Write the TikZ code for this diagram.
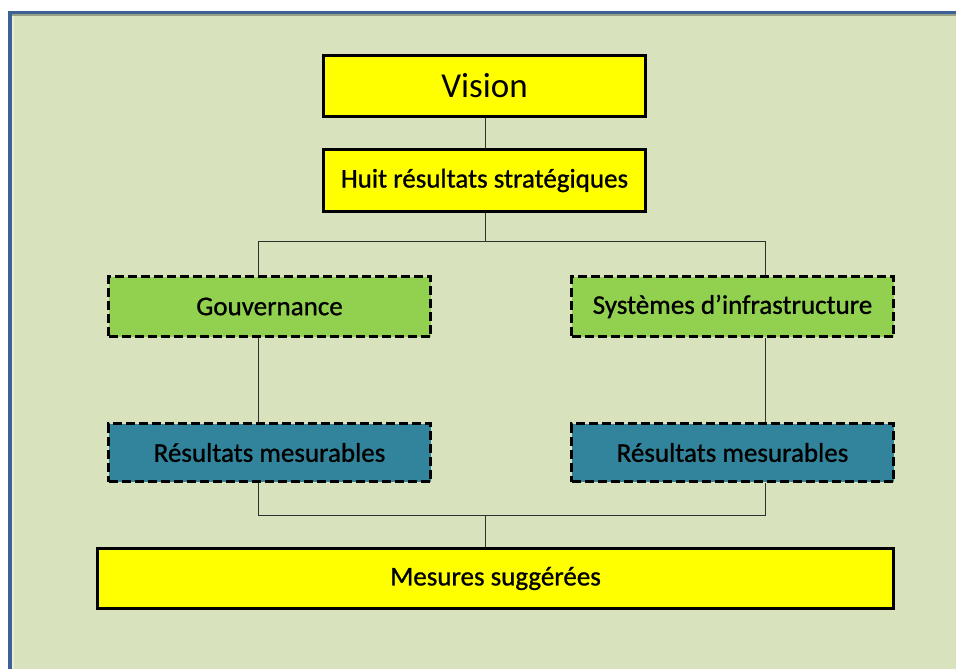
\documentclass[tikz,border=0pt]{standalone}
\usepackage{fontspec}
\setmainfont{Carlito}
\newfontfamily\medfont{Carlito}[FakeBold=0.9]
\definecolor{bgpanel}{HTML}{D8E3BD}
\definecolor{frameblue}{HTML}{3D6194}
\definecolor{boxyellow}{HTML}{FFFF00}
\definecolor{boxgreen}{HTML}{92D050}
\definecolor{boxteal}{HTML}{31849B}
\definecolor{linkgray}{HTML}{303030}
\begin{document}
\begin{tikzpicture}[x=1pt,y=-1pt,
  solidbox/.style={draw=black, line width=3pt, fill=boxyellow, rectangle, inner sep=0pt, text=black, font=\medfont\fontsize{27}{30}\selectfont},
  dashbox/.style={draw=black, line width=3pt, dash pattern=on 9pt off 4pt, rectangle, inner sep=0pt, minimum width=322pt, minimum height=60pt, text=black, font=\medfont\fontsize{27}{30}\selectfont},
  link/.style={draw=linkgray, line width=1pt}]
\useasboundingbox (0,0) rectangle (956,669);
\fill[white] (0,0) rectangle (956,669);
\fill[bgpanel] (8,11) rectangle (960,673);
\fill[frameblue] (8,11) rectangle (960,14.5);
\fill[frameblue] (8,11) rectangle (12,673);
\fill[black!30!bgpanel] (12,14.5) rectangle (960,16);
\fill[white!40!bgpanel] (12,16) rectangle (14,673);

\node[solidbox, minimum width=322pt, minimum height=61pt, font=\fontsize{35}{38}\selectfont] (vision) at (484.5,86) {Vision};
\node[solidbox, minimum width=322pt, minimum height=62pt] (huit) at (484.5,180.5) {Huit résultats stratégiques};
\node[dashbox, fill=boxgreen] (gouv) at (269.5,306.5) {Gouvernance};
\node[dashbox, fill=boxgreen] (sys) at (732.5,306.5) {Systèmes d’infrastructure};
\node[dashbox, fill=boxteal, minimum height=58pt] (resL) at (269.5,452.5) {Résultats mesurables};
\node[dashbox, fill=boxteal, minimum height=58pt] (resR) at (732.5,452.5) {Résultats mesurables};
\node[solidbox, minimum width=796pt, minimum height=60pt] (mes) at (495.5,578.5) {Mesures suggérées};

\coordinate (jt) at (485,241);
\coordinate (gl) at (258.5,241);
\coordinate (gr) at (765.5,241);
\coordinate (bl) at (258.5,515);
\coordinate (br) at (765.5,515);
\coordinate (bm) at (485,515);

\draw[link] (vision.south -| jt) -- (huit.north -| jt);
\draw[link] (huit.south -| jt) -- (jt);
\draw[link] (gl |- gouv.north) -- (gl) -- (gr) -- (gr |- sys.north);
\draw[link] (gouv.south -| gl) -- (resL.north -| gl);
\draw[link] (sys.south -| gr) -- (resR.north -| gr);
\draw[link] (resL.south -| bl) -- (bl) -- (br) -- (resR.south -| br);
\draw[link] (bm) -- (mes.north -| bm);
\end{tikzpicture}
\end{document}
